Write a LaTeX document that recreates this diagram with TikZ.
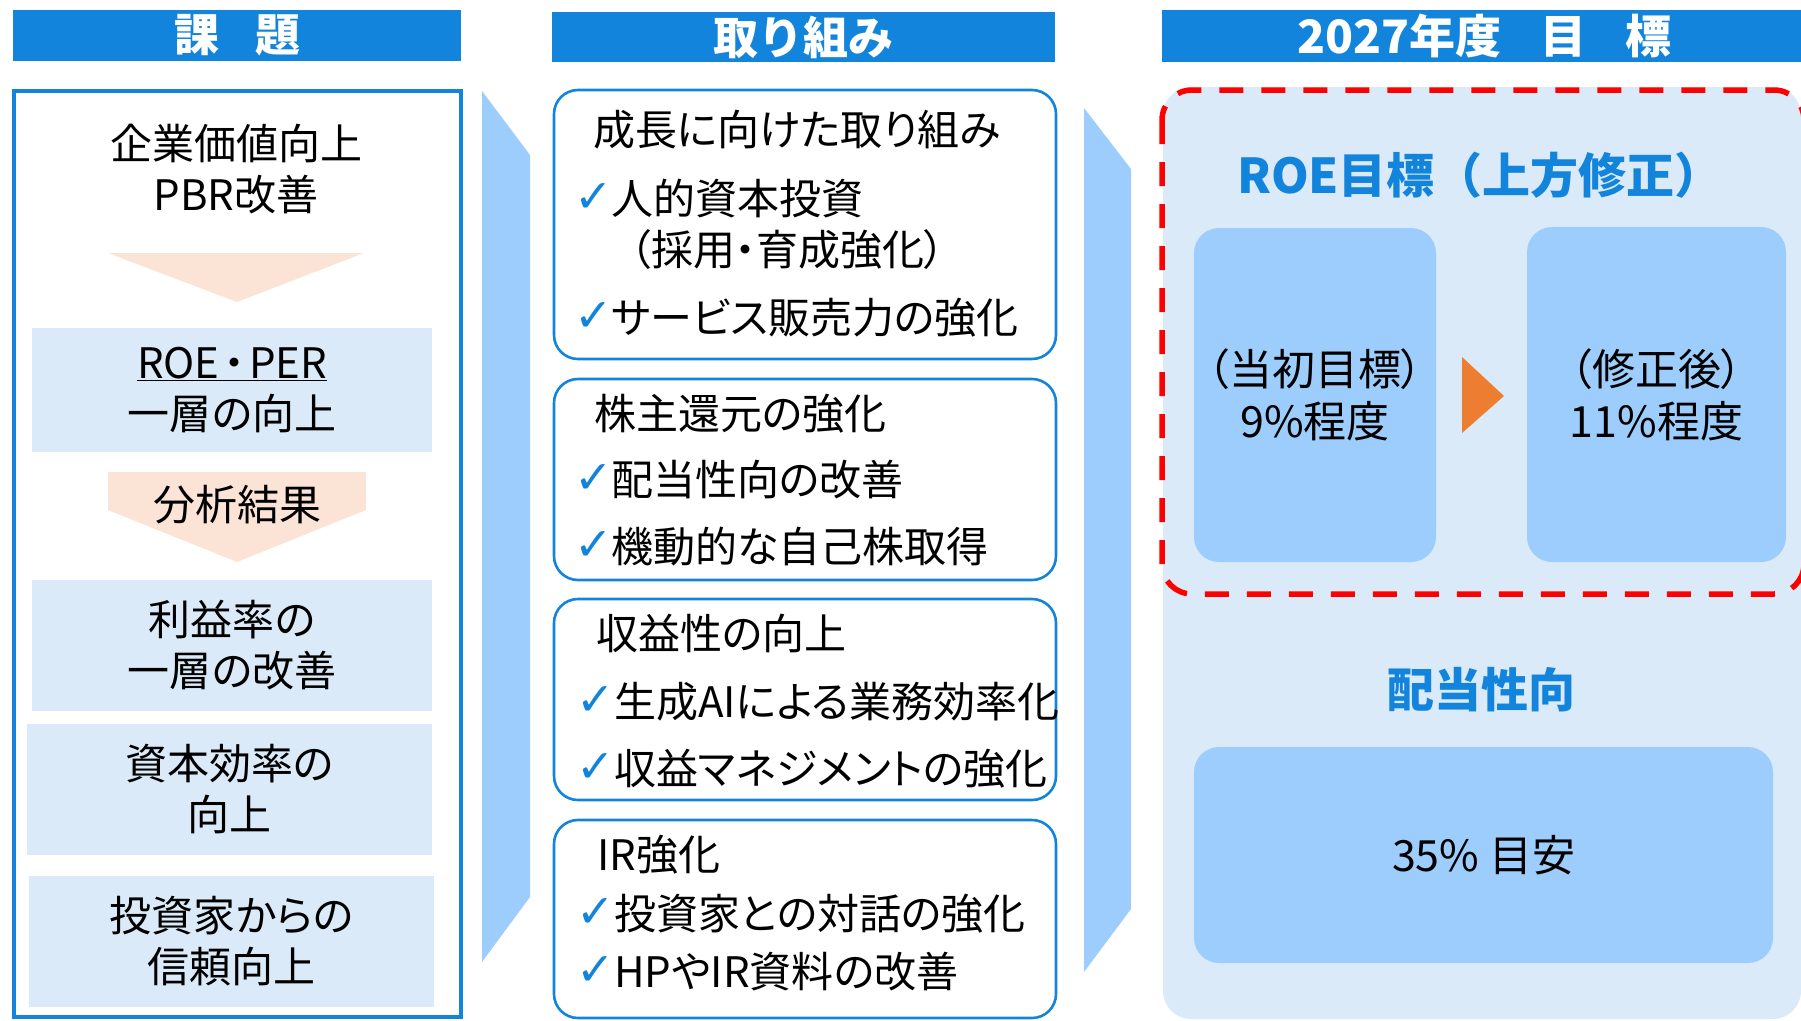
\documentclass[tikz,border=0pt]{standalone}
\usepackage{fontspec}
\setmainfont{Noto Sans CJK JP}[RawFeature=+palt]
\newfontfamily\jpfull{Noto Sans CJK JP}
\newfontfamily\dejavu{DejaVu Sans}
\definecolor{hdrblue}{HTML}{1284DC}
\definecolor{paleblue}{HTML}{DAEAF8}
\definecolor{midblue}{HTML}{9DCDFC}
\definecolor{peach}{HTML}{FBE4D5}
\definecolor{orangeA}{HTML}{ED7D31}
\definecolor{redA}{HTML}{FF0000}
\tikzset{
  hdr/.style={fill=hdrblue, text=white, inner sep=0pt, font=\jpfull\bfseries\fontsize{45}{50}\selectfont},
  lbox/.style={fill=paleblue, inner sep=0pt, align=center, font=\fontsize{42}{51}\selectfont},
  ctext/.style={inner sep=0pt, align=center, font=\fontsize{42}{51}\selectfont},
  cbox/.style={draw=hdrblue, fill=white, line width=2.6pt, rounded corners=24pt, inner sep=0pt},
  ln/.style={anchor=base west, inner sep=0pt, font=\fontsize{42}{50}\selectfont},
  chk/.style={anchor=base west, inner sep=0pt, text=hdrblue, font=\dejavu\bfseries\fontsize{46}{46}\selectfont},
  rbox/.style={fill=midblue, rounded corners=25pt, inner sep=0pt, align=center, font=\fontsize{43}{52}\selectfont},
  ttl/.style={anchor=base, inner sep=0pt, text=hdrblue, font=\jpfull\bfseries\fontsize{48}{50}\selectfont},
}
\begin{document}
\begin{tikzpicture}[x=1pt,y=-1pt]
\useasboundingbox (0,0) rectangle (1801,1020);

% headers
\node[hdr, minimum width=448pt, minimum height=51pt] (h1) at (237,35.5) {課\hspace{0.8em}題};
\node[hdr, minimum width=503pt, minimum height=50pt] (h2) at (803.5,37) {取り組み};
\node[hdr, minimum width=645pt, minimum height=52pt, font=\jpfull\bfseries\fontsize{46}{50}\selectfont] (h3) at (1484.5,36) {2027年度\hspace{0.85em}目\hspace{0.85em}標};

% left column
\node[draw=hdrblue, line width=3.6pt, minimum width=447pt, minimum height=926pt, inner sep=0pt] (leftframe) at (237.5,554) {};
\node[ctext] (kigyo) at (236,169) {企業価値向上\\PBR改善};
\fill[peach] (108,253) -- (364,253) -- (237,302) -- cycle;
\node[lbox, minimum width=400pt, minimum height=124pt] (roeper) at (232,390) {\underline{ROE\hspace{0.1em}・\hspace{0.1em}PER}\\一層の向上};
\fill[peach] (108,472) -- (366,472) -- (366,510) -- (237,562) -- (108,510) -- cycle;
\node[anchor=base, inner sep=0pt, font=\fontsize{42}{50}\selectfont] (bunseki) at (237,520) {分析結果};
\node[lbox, minimum width=400pt, minimum height=131pt] (rieki) at (232,645.5) {利益率の\\一層の改善};
\node[lbox, minimum width=405pt, minimum height=131pt] (shihon) at (229.5,789.5) {資本効率の\\向上};
\node[lbox, minimum width=405pt, minimum height=131pt] (toushi) at (231.5,941.5) {投資家からの\\信頼向上};

% chevrons
\fill[midblue] (482,91) -- (530,155) -- (530,897) -- (482,962) -- cycle;
\fill[midblue] (1084,108) -- (1131,169) -- (1131,909) -- (1084,972) -- cycle;

% middle column boxes
\node[cbox, minimum width=502pt, minimum height=269pt] (b1) at (805,224.5) {};
\node[cbox, minimum width=502pt, minimum height=201pt] (b2) at (805,479.5) {};
\node[cbox, minimum width=502pt, minimum height=201pt] (b3) at (805,699.5) {};
\node[cbox, minimum width=502pt, minimum height=198pt] (b4) at (805,919) {};

\node[ln] (t1) at (593,145) {成長に向けた取り組み};
\node[chk] (c1) at (574,212) {✓};
\node[ln] (t2) at (611,214) {人的資本投資};
\node[ln] (t3) at (630,265) {（採用・育成強化）};
\node[chk] (c2) at (574,331) {✓};
\node[ln] (t4) at (611,333) {サービス販売力の強化};

\node[ln] (t5) at (594,429) {株主還元の強化};
\node[chk] (c3) at (574,493) {✓};
\node[ln] (t6) at (611,495) {配当性向の改善};
\node[chk] (c4) at (574,560) {✓};
\node[ln] (t7) at (611,562) {機動的な自己株取得};

\node[ln] (t8) at (596,649) {収益性の向上};
\node[chk] (c5) at (576,715) {✓};
\node[ln] (t9) at (614,717) {生成AIによる業務効率化};
\node[chk] (c6) at (576,782) {✓};
\node[ln] (t10) at (614,784) {収益マネジメントの強化};

\node[ln] (t11) at (597,870) {IR強化};
\node[chk] (c7) at (576,927) {✓};
\node[ln] (t12) at (614,929) {投資家との対話の強化};
\node[chk] (c8) at (576,985) {✓};
\node[ln] (t13) at (614,987) {HPやIR資料の改善};

% right column
\fill[paleblue, rounded corners=28pt] (1163,87) rectangle (1801,1019);
\draw[redA, line width=5.5pt, dash pattern=on 24pt off 18pt, rounded corners=30pt] (1162,90) rectangle (1804,594);
\node[ttl] (roetitle) at (1480,193) {ROE目標（上方修正）};
\node[rbox, minimum width=242pt, minimum height=334pt] (init) at (1315,395) {（当初目標）\\9\%程度};
\node[rbox, minimum width=259pt, minimum height=335pt] (rev) at (1656.5,394.5) {（修正後）\\11\%程度};
\fill[orangeA] (1462,357) -- (1504,396) -- (1462,433) -- cycle;
\node[ttl, font=\jpfull\bfseries\fontsize{47}{50}\selectfont] (paytitle) at (1481,707) {配当性向};
\node[rbox, minimum width=579pt, minimum height=216pt] (pay) at (1483.5,855) {35\% 目安};
\end{tikzpicture}
\end{document}
